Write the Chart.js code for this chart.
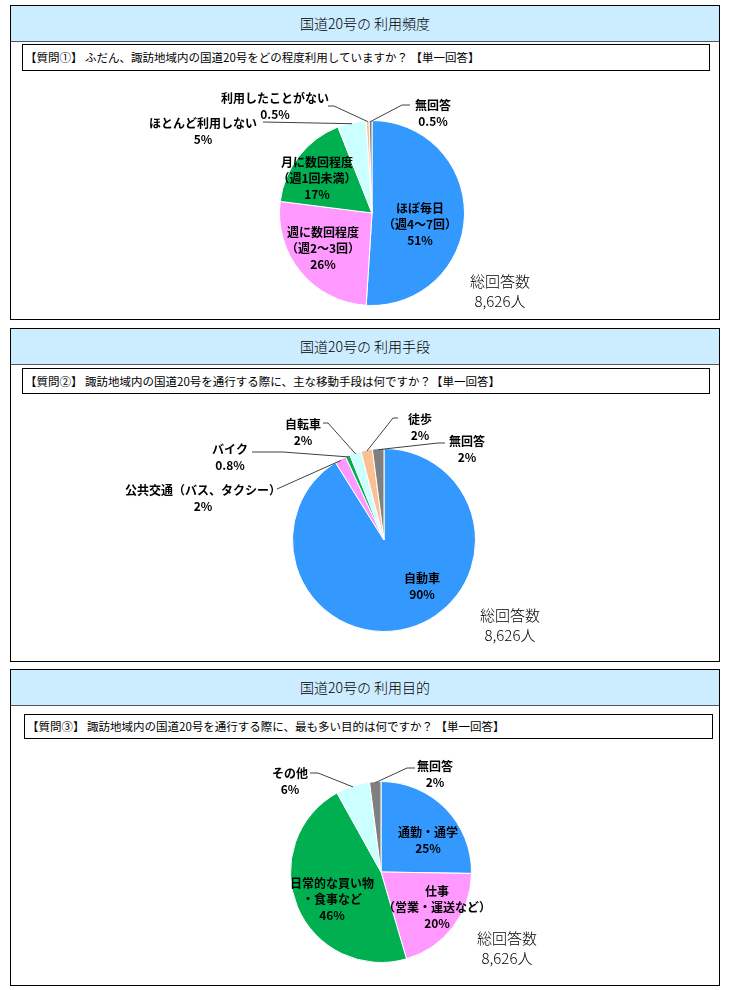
<!DOCTYPE html>
<html>
<head>
<meta charset="utf-8">
<script src="https://cdn.jsdelivr.net/npm/chart.js@4/dist/chart.umd.min.js"></script>
<style>
body{margin:0;width:730px;height:990px;background:#fff;font-family:"Noto Sans CJK JP",sans-serif;position:relative;overflow:hidden}
.panel{position:absolute;left:10px;width:710px;border:1px solid #000;box-sizing:border-box}
.head{position:absolute;left:0;top:0;right:0;height:35px;background:#CCECFF;border-bottom:1px solid #555;text-align:center;line-height:34px;font-size:14px;font-weight:300;color:#000}
.q{position:absolute;border:1px solid #000;box-sizing:border-box;font-size:11.5px;line-height:23px;padding-left:2px;white-space:nowrap}
.total{position:absolute;font-size:15px;font-weight:300;line-height:20px;text-align:center;width:80px;color:#000}
canvas{position:absolute;left:10px}
</style>
</head>
<body>
<div class="panel" style="top:5px;height:315px">
  <div class="head">国道20号の 利用頻度</div>
  <div class="q" style="left:11px;top:38px;width:688px;height:27px;line-height:25px">【質問①】 ふだん、諏訪地域内の国道20号をどの程度利用していますか？ 【単一回答】</div>
</div>
<div class="panel" style="top:328px;height:334px">
  <div class="head">国道20号の 利用手段</div>
  <div class="q" style="left:11px;top:39px;width:688px;height:26px;line-height:24px">【質問②】 諏訪地域内の国道20号を通行する際に、主な移動手段は何ですか？【単一回答】</div>
</div>
<div class="panel" style="top:669px;height:317px">
  <div class="head">国道20号の 利用目的</div>
  <div class="q" style="left:13px;top:44px;width:689px;height:25px">【質問③】 諏訪地域内の国道20号を通行する際に、最も多い目的は何ですか？ 【単一回答】</div>
</div>

<canvas id="c1" width="709" height="246" style="top:72px"></canvas>
<canvas id="c2" width="709" height="264" style="top:395px"></canvas>
<canvas id="c3" width="709" height="244" style="top:740px"></canvas>

<div class="total" style="left:460px;top:271px">総回答数<br>8,626人</div>
<div class="total" style="left:470px;top:605px">総回答数<br>8,626人</div>
<div class="total" style="left:467px;top:928px">総回答数<br>8,626人</div>

<script>
// Q1 利用頻度
const freqLabels = ['ほぼ毎日\n（週4～7回）', '週に数回程度\n（週2～3回）', '月に数回程度\n（週1回未満）', 'ほとんど利用しない', '利用したことがない', '無回答'];
const freqValues = [51, 26, 17, 5, 0.5, 0.5];

// Q2 利用手段
const meansLabels = ['自動車', '公共交通（バス、タクシー）', 'バイク', '自転車', '徒歩', '無回答'];
const meansValues = [90, 2, 0.8, 2, 2, 2];

// Q3 利用目的
const purposeLabels = ['通勤・通学', '仕事\n（営業・運送など）', '日常的な買い物\n・食事など', 'その他', '無回答'];
const purposeValues = [25, 20, 46, 6, 2];

const BLUE = '#3399FF', PINK = '#FF99FF', GREEN = '#00B050', CYAN = '#CCFFFF', PEACH = '#FAC090', GRAY = '#808080';
const freqColors = [BLUE, PINK, GREEN, CYAN, PEACH, GRAY];
const meansColors = [BLUE, PINK, GREEN, CYAN, PEACH, GRAY];
const purposeColors = [BLUE, PINK, GREEN, CYAN, GRAY];

// label placement, offsets from pie centre
const freqLayout = [
  {dx: 48, dy: 11},
  {dx: -49, dy: 35},
  {dx: -55, dy: -35},
  {dx: -169, dy: -82, leader: [[-109, -91]]},
  {dx: -97, dy: -107, leader: [[-44, -107], [-38, -107]]},
  {dx: 61, dy: -100, leader: [[38, -108], [30, -108]]}
];
const meansLayout = [
  {dx: 38, dy: 46},
  {dx: -181, dy: -42, leader: [[-107, -51]]},
  {dx: -154, dy: -83, leader: [[-132, -88], [-101, -88]]},
  {dx: -81, dy: -108, leader: [[-61, -117], [-56, -117]]},
  {dx: 36, dy: -113, leader: [[14, -122], [9, -122]]},
  {dx: 83, dy: -91, leader: [[61, -97], [54, -97]]}
];
const purposeLayout = [
  {dx: 47, dy: -32},
  {dx: 56, dy: 35},
  {dx: -49, dy: 27},
  {dx: -91, dy: -91, leader: [[-71, -99], [-63, -99]]},
  {dx: 54, dy: -98, leader: [[34, -104], [26, -104]]}
];

const pieLabels = {
  id: 'pieLabels',
  afterDatasetsDraw(chart, args, opts) {
    const ctx = chart.ctx;
    const meta = chart.getDatasetMeta(0);
    const vals = chart.data.datasets[0].data;
    ctx.save();
    meta.data.forEach(function(arc, i) {
      const p = arc.getProps(['x', 'y', 'startAngle', 'endAngle', 'outerRadius'], true);
      const L = opts.layout[i];
      const mid = (p.startAngle + p.endAngle) / 2;
      if (L.leader) {
        ctx.strokeStyle = '#404040';
        ctx.lineWidth = 1;
        ctx.beginPath();
        ctx.moveTo(p.x + L.leader[0][0], p.y + L.leader[0][1]);
        for (let k = 1; k < L.leader.length; k++) ctx.lineTo(p.x + L.leader[k][0], p.y + L.leader[k][1]);
        ctx.lineTo(p.x + Math.cos(mid) * (p.outerRadius - 1), p.y + Math.sin(mid) * (p.outerRadius - 1));
        ctx.stroke();
      }
      const lines = chart.data.labels[i].split('\n').concat([vals[i] + '%']);
      const lh = 16;
      ctx.fillStyle = '#000';
      ctx.font = 'bold 12px "Noto Sans CJK JP"';
      ctx.textAlign = 'center';
      ctx.textBaseline = 'middle';
      const y0 = p.y + L.dy - (lines.length - 1) * lh / 2;
      lines.forEach(function(t, j) {
        ctx.fillText(t, p.x + L.dx, y0 + j * lh);
      });
    });
    ctx.restore();
  }
};

function makePie(id, labels, values, colors, layout, cx, cy, r) {
  const cv = document.getElementById(id);
  const w = cv.width, h = cv.height;
  new Chart(cv.getContext('2d'), {
    type: 'pie',
    data: {
      labels: labels,
      datasets: [{data: values, backgroundColor: colors, borderColor: '#fff', borderWidth: 1}]
    },
    options: {
      responsive: false,
      animation: false,
      layout: {padding: {left: cx - r, right: w - cx - r, top: cy - r, bottom: h - cy - r}},
      plugins: {legend: {display: false}, tooltip: {enabled: false}, pieLabels: {layout: layout}}
    },
    plugins: [pieLabels]
  });
}

makePie('c1', freqLabels, freqValues, freqColors, freqLayout, 362, 141, 93);
makePie('c2', meansLabels, meansValues, meansColors, meansLayout, 374, 145, 92);
makePie('c3', purposeLabels, purposeValues, purposeColors, purposeLayout, 371, 132, 91);
</script>
</body>
</html>
